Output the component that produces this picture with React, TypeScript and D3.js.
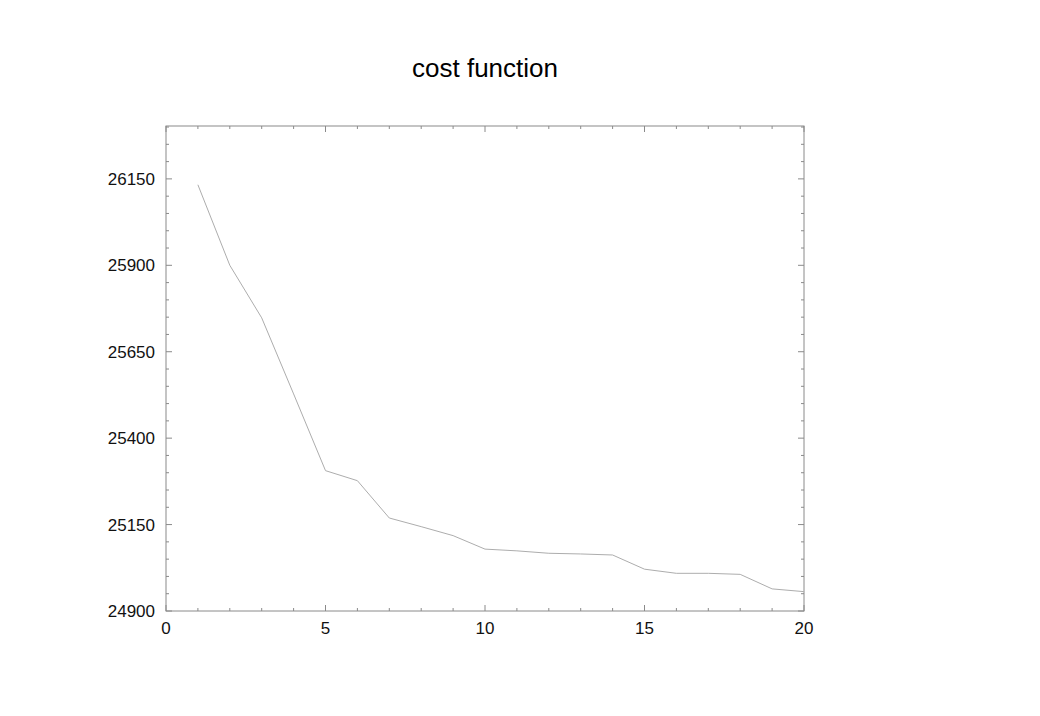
import React, { useEffect, useRef } from "react";
import * as d3 from "d3";

const iterations = [1, 2, 3, 4, 5, 6, 7, 8, 9, 10, 11, 12, 13, 14, 15, 16, 17, 18, 19, 20];
const costValues = [26133, 25900, 25748, 25528, 25306, 25277, 25169, 25144, 25118, 25079, 25074, 25067, 25065, 25062, 25021, 25009, 25009, 25006, 24964, 24956];
const xTicks = [0, 5, 10, 15, 20];
const yTicks = [24900, 25150, 25400, 25650, 25900, 26150];
const title = "cost function";

export default function App() {
  const ref = useRef<SVGSVGElement>(null);
  useEffect(() => {
    const svg = d3.select(ref.current);
    svg.selectAll("*").remove();
    const L = 166, R = 804, T = 126, B = 611;
    const x = d3.scaleLinear().domain([0, 20]).range([L, R]);
    const y = d3.scaleLinear().domain([24900, 26303]).range([B, T]);
    const axisColor = "#8a8a8a";
    const font = "'Liberation Sans', Arial, sans-serif";

    svg.append("rect").attr("width", 1040).attr("height", 716).attr("fill", "#fff");

    svg.append("text").attr("x", 485).attr("y", 77).attr("text-anchor", "middle")
      .attr("font-family", font).attr("font-size", 26).attr("fill", "#000").text(title);

    const g = svg.append("g");
    g.append("rect").attr("x", L).attr("y", T).attr("width", R - L).attr("height", B - T)
      .attr("fill", "none").attr("stroke", axisColor).attr("stroke-width", 1);

    const xMinor = d3.range(0, 21, 1);
    xMinor.forEach(v => {
      const major = v % 5 === 0;
      const len = major ? 6 : 3;
      const px = x(v);
      g.append("line").attr("x1", px).attr("x2", px).attr("y1", B).attr("y2", B - len).attr("stroke", axisColor);
      g.append("line").attr("x1", px).attr("x2", px).attr("y1", T).attr("y2", T + len).attr("stroke", axisColor);
    });
    const yMinor = d3.range(24900, 26301, 50);
    yMinor.forEach(v => {
      const major = (v - 24900) % 250 === 0;
      const len = major ? 6 : 3;
      const py = y(v);
      g.append("line").attr("x1", L).attr("x2", L + len).attr("y1", py).attr("y2", py).attr("stroke", axisColor);
      g.append("line").attr("x1", R).attr("x2", R - len).attr("y1", py).attr("y2", py).attr("stroke", axisColor);
    });

    xTicks.forEach(v => {
      g.append("text").attr("x", x(v)).attr("y", B + 23).attr("text-anchor", "middle")
        .attr("font-family", font).attr("font-size", 17).attr("fill", "#111").text(String(v));
    });
    yTicks.forEach(v => {
      g.append("text").attr("x", L - 11).attr("y", y(v) + 6).attr("text-anchor", "end")
        .attr("font-family", font).attr("font-size", 17).attr("fill", "#111").text(String(v));
    });

    const line = d3.line<number>().x((_, i) => x(iterations[i])).y(d => y(d));
    g.append("path").attr("d", line(costValues)).attr("fill", "none")
      .attr("stroke", "#adadad").attr("stroke-width", 1);
  }, []);
  return (
    <svg ref={ref} width={1040} height={716} style={{ position: "absolute", left: 0, top: 0 }} />
  );
}
